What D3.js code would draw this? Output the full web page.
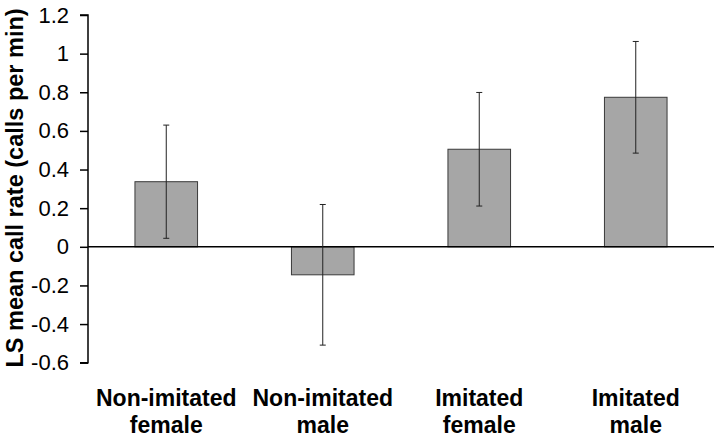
<!DOCTYPE html>
<html>
<head>
<meta charset="utf-8">
<script src="https://cdn.jsdelivr.net/npm/d3@7"></script>
<style>
html,body{margin:0;padding:0;background:#fff;}
svg{display:block;}
text{font-family:"Liberation Sans",Arial,sans-serif;}
</style>
</head>
<body>
<svg id="chart" width="721" height="441"></svg>
<script>
const categories = [["Non-imitated","female"],["Non-imitated","male"],["Imitated","female"],["Imitated","male"]];
const means = [0.337, -0.145, 0.505, 0.774];
const errors = [0.293, 0.364, 0.294, 0.289];
const yTicks = [-0.6,-0.4,-0.2,0,0.2,0.4,0.6,0.8,1,1.2];
const yTitle = "LS mean call rate (calls per min)";

const svg = d3.select("#chart");
const x = d3.scaleBand().domain(d3.range(categories.length)).range([88,714]).paddingInner(0.6).paddingOuter(0.3);
const y = d3.scaleLinear().domain([-0.6,1.2]).range([362.7,15]);

// bars
svg.append("g").selectAll("rect").data(means).join("rect")
  .attr("x",(d,i)=>x(i))
  .attr("width",x.bandwidth())
  .attr("y",d=>y(Math.max(0,d)))
  .attr("height",d=>Math.abs(y(d)-y(0)))
  .attr("fill","#a6a6a6")
  .attr("stroke","#3a3a3a")
  .attr("stroke-width",1);

// zero line
svg.append("line").attr("x1",88).attr("x2",714).attr("y1",y(0)).attr("y2",y(0))
  .attr("stroke","#000").attr("stroke-width",1.5);

// error bars
const eg = svg.append("g").attr("stroke","#222").attr("stroke-width",1);
means.forEach((m,i)=>{
  const cx = x(i)+x.bandwidth()/2;
  eg.append("line").attr("x1",cx).attr("x2",cx).attr("y1",y(m+errors[i])).attr("y2",y(m-errors[i]));
  [m+errors[i], m-errors[i]].forEach(v=>{
    eg.append("line").attr("x1",cx-3).attr("x2",cx+3).attr("y1",y(v)).attr("y2",y(v));
  });
});

// y axis
const yAxis = d3.axisLeft(y).tickValues(yTicks).tickSize(8).tickPadding(11)
  .tickFormat(d=>d3.format("")(+d.toFixed(1)).replace("−","-"));
const ga = svg.append("g").attr("transform","translate(88,0)").call(yAxis);
ga.select(".domain").attr("stroke","#000").attr("stroke-width",1.5).attr("d","M-8,"+y(1.2)+"H0V"+y(-0.6)+"H-8");
ga.selectAll(".tick line").attr("stroke","#000").attr("stroke-width",1.5);
ga.selectAll(".tick text").attr("font-size",22).attr("fill","#000")
  .attr("font-family","'Liberation Sans',Arial,sans-serif");

// y title
svg.append("text").attr("transform","translate(23,188) rotate(-90)")
  .attr("text-anchor","middle").attr("font-weight","bold").attr("font-size",23.5)
  .attr("fill","#000").text(yTitle);

// category labels
const cl = svg.append("g");
categories.forEach((c,i)=>{
  const cx = x(i)+x.bandwidth()/2;
  const t = cl.append("text").attr("text-anchor","middle").attr("font-weight","bold")
    .attr("font-size",23).attr("fill","#000");
  c.forEach((line,j)=>{
    t.append("tspan").attr("x",cx).attr("y",406+j*27).text(line);
  });
});
</script>
</body>
</html>
